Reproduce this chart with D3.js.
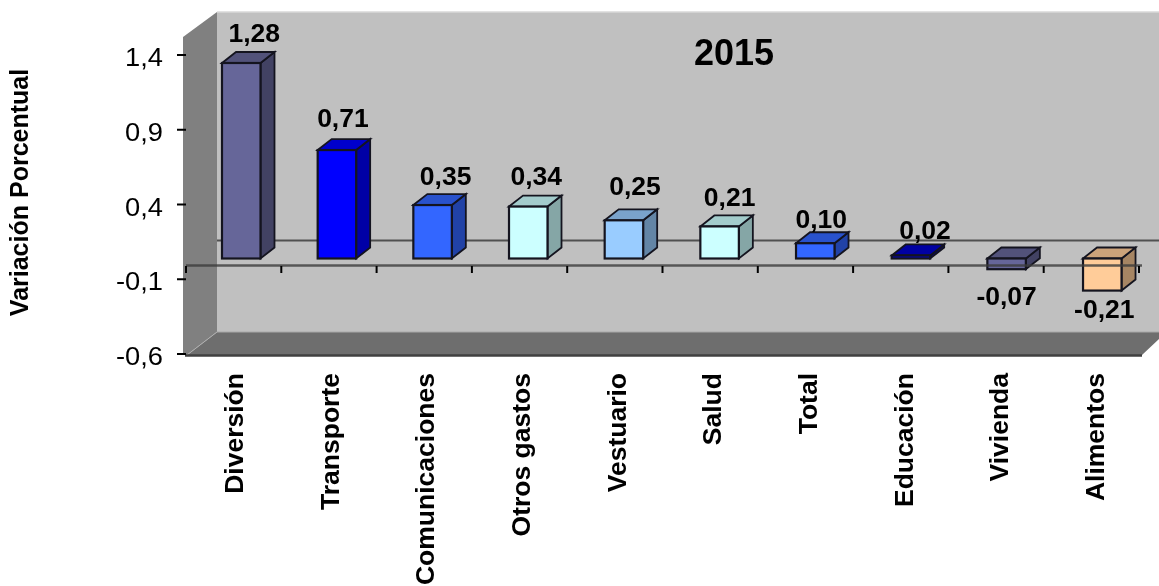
<!DOCTYPE html>
<html><head><meta charset="utf-8">
<script src="https://cdn.jsdelivr.net/npm/d3@7"></script>
<style>
html,body{margin:0;padding:0;background:#fff;overflow:hidden}
svg{display:block;filter:blur(0.45px)}
text{font-family:"Liberation Sans",Arial,sans-serif;fill:#000}
</style></head><body>
<svg id="c" width="1159" height="586"></svg>
<script>
const categories=["Diversión","Transporte","Comunicaciones","Otros gastos","Vestuario","Salud","Total","Educación","Vivienda","Alimentos"];
const values=[1.28,0.71,0.35,0.34,0.25,0.21,0.10,0.02,-0.07,-0.21];
const valueLabels=["1,28","0,71","0,35","0,34","0,25","0,21","0,10","0,02","-0,07","-0,21"];
const frontColors=["#666699","#0000ff","#3366ff","#ccffff","#99ccff","#ccffff","#3366ff","#0000cc","#666699","#ffcc99"];
const yTicks=[1.4,0.9,0.4,-0.1,-0.6];
const yTickLabels=["1,4","0,9","0,4","-0,1","-0,6"];
const title="2015";
const yTitle="Variación Porcentual";

const svg=d3.select("#c");
const xTickScale=d3.scaleBand().domain(categories).range([186,1139]);
const xBar=d3.scaleBand().domain(categories).range([186,1142.7]);
const yAxisS=d3.scaleLinear().domain([-0.6,1.4]).range([354,55]);
const yBar=d3.scaleLinear().domain([0,1.28]).range([258.5,63]);
const barW=38.5, dx=14, dy=11;
const poly=p=>p.map(q=>q.join(",")).join(" ");
// hand-placed label nudges of the original, relative to each bar
const nudgeX=[13,6,13,8,11,10,6,14,0,2];
const nudgeY=[-21,-23,-20,-22,-25,-20,-15,-16,36,27];

// walls
const wallL=217, wallT=12, wallB=332, floorB=355;
svg.append("polygon").attr("points",poly([[wallL,wallT],[1159,wallT],[1159,wallB],[wallL,wallB]])).attr("fill","#c0c0c0");
svg.append("line").attr("x1",wallL).attr("x2",1159).attr("y1",wallT).attr("y2",wallT).attr("stroke","#d8d8d8").attr("stroke-width",1.5);
svg.append("polygon").attr("points",poly([[wallL,wallT],[wallL,wallB],[187,floorB],[183,floorB],[183,37]])).attr("fill","#808080");
svg.append("polygon").attr("points",poly([[wallL,wallB],[1159,wallB],[1159,339],[1142,floorB],[187,floorB]])).attr("fill","#6e6e6e");
svg.append("line").attr("x1",wallL).attr("x2",187).attr("y1",wallB).attr("y2",floorB).attr("stroke","#b0b0b0").attr("stroke-width",1);
svg.append("line").attr("x1",wallL).attr("x2",1159).attr("y1",wallB).attr("y2",wallB).attr("stroke","#a8a8a8").attr("stroke-width",1);
svg.append("line").attr("x1",185).attr("x2",1142).attr("y1",floorB+.5).attr("y2",floorB+.5).attr("stroke","#404040").attr("stroke-width",2.5);
svg.append("line").attr("x1",wallL).attr("x2",1159).attr("y1",240.5).attr("y2",240.5).attr("stroke","#505050").attr("stroke-width",2);

// bars
const shade=(c,k)=>{const r=d3.rgb(c);return d3.rgb(r.r*k,r.g*k,r.b*k).formatHex()};
const edge="#14141f";
const barLeft=c=>xBar(c)+36;
svg.append("g").selectAll("g").data(categories).join("g").each(function(cat,i){
  const g=d3.select(this), v=values[i], col=frontColors[i];
  const x0=barLeft(cat), x1=x0+barW;
  const yT=Math.min(yBar(v),yBar(0)), yB=Math.max(yBar(v),yBar(0));
  g.append("polygon").attr("points",poly([[x1,yT],[x1+dx,yT-dy],[x1+dx,yB-dy],[x1,yB]])).attr("fill",shade(col,.65)).attr("stroke",edge).attr("stroke-width",1.8);
  g.append("polygon").attr("points",poly([[x0,yT],[x0+dx,yT-dy],[x1+dx,yT-dy],[x1,yT]])).attr("fill",shade(col,.8)).attr("stroke",edge).attr("stroke-width",1.8);
  g.append("rect").attr("x",x0).attr("y",yT).attr("width",barW).attr("height",yB-yT).attr("fill",col).attr("stroke",edge).attr("stroke-width",2.2);
});

// axes
svg.append("line").attr("x1",186).attr("x2",1142).attr("y1",265.5).attr("y2",265.5).attr("stroke","#3c3c3c").attr("stroke-width",2.5).attr("opacity",.8);
const xTicks=categories.map(c=>xTickScale(c)).concat([xTickScale.range()[1]]);
svg.append("g").selectAll("line").data(xTicks).join("line").attr("x1",d=>d).attr("x2",d=>d).attr("y1",266).attr("y2",273).attr("stroke","#000").attr("stroke-width",2);
const yG=svg.append("g");
yG.selectAll("line").data(yTicks).join("line").attr("x1",177).attr("x2",186).attr("y1",d=>yAxisS(d)).attr("y2",d=>yAxisS(d)).attr("stroke","#000").attr("stroke-width",2);
yG.selectAll("text").data(yTicks).join("text").attr("transform",d=>`translate(163,${yAxisS(d)+11}) scale(1.05,1)`).attr("text-anchor","end").attr("font-size",26).text((d,i)=>yTickLabels[i]);

// labels
svg.append("g").selectAll("text").data(categories).join("text")
 .attr("x",(c,i)=>barLeft(c)+barW/2+nudgeX[i])
 .attr("y",(c,i)=>yBar(values[i])+nudgeY[i]).attr("text-anchor","middle")
 .attr("font-size",26.5).attr("font-weight","bold").text((c,i)=>valueLabels[i]);
svg.append("g").selectAll("text").data(categories).join("text")
 .attr("transform",c=>`translate(${xBar(c)+57},373) rotate(-90)`).attr("text-anchor","end")
 .attr("font-size",26.5).attr("font-weight","bold").text(c=>c);
svg.append("text").attr("x",734).attr("y",65).attr("text-anchor","middle").attr("font-size",36).attr("font-weight","bold").text(title);
svg.append("text").attr("transform","translate(28,192.5) rotate(-90)").attr("text-anchor","middle").attr("font-size",25).attr("font-weight","bold").text(yTitle);
</script></body></html>
